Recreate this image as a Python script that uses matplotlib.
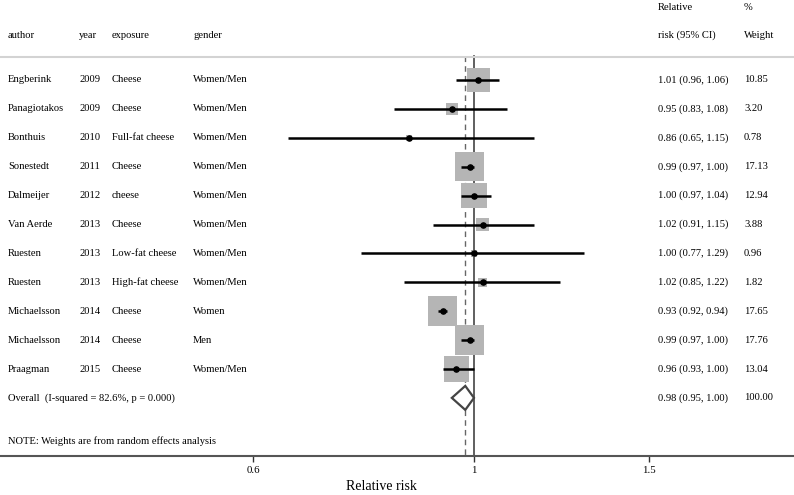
import numpy as np
import matplotlib
matplotlib.use("Agg")
import matplotlib.pyplot as plt
from matplotlib.patches import Polygon

plt.rcParams['font.family'] = ['Liberation Serif', 'DejaVu Serif']

# study data
authors = ['Engberink', 'Panagiotakos', 'Bonthuis', 'Sonestedt', 'Dalmeijer', 'Van Aerde',
           'Ruesten', 'Ruesten', 'Michaelsson', 'Michaelsson', 'Praagman']
years = ['2009', '2009', '2010', '2011', '2012', '2013', '2013', '2013', '2014', '2014', '2015']
exposures = ['Cheese', 'Cheese', 'Full-fat cheese', 'Cheese', 'cheese', 'Cheese',
             'Low-fat cheese', 'High-fat cheese', 'Cheese', 'Cheese', 'Cheese']
genders = ['Women/Men', 'Women/Men', 'Women/Men', 'Women/Men', 'Women/Men', 'Women/Men',
           'Women/Men', 'Women/Men', 'Women', 'Men', 'Women/Men']
rr = [1.01, 0.95, 0.86, 0.99, 1.00, 1.02, 1.00, 1.02, 0.93, 0.99, 0.96]
lo = [0.96, 0.83, 0.65, 0.97, 0.97, 0.91, 0.77, 0.85, 0.92, 0.97, 0.93]
hi = [1.06, 1.08, 1.15, 1.00, 1.04, 1.15, 1.29, 1.22, 0.94, 1.00, 1.00]
weights = [10.85, 3.20, 0.78, 17.13, 12.94, 3.88, 0.96, 1.82, 17.65, 17.76, 13.04]

overall_rr, overall_lo, overall_hi, overall_w = 0.98, 0.95, 1.00, 100.00
overall_label = 'Overall  (I-squared = 82.6%, p = 0.000)'
note = 'NOTE: Weights are from random effects analysis'
xticks = [0.6, 1, 1.5]
xticklabels = ['0.6', '1', '1.5']

W, H = 794, 495
fig = plt.figure(figsize=(W / 100, H / 100), dpi=100)
ax = fig.add_axes([0, 39 / H, 1, 456 / H])
ax.set_xscale('log')
ax.set_xlim(np.exp(-474 / 432), np.exp(320 / 432))
ax.set_ylim(456, 0)

for s in ['left', 'right', 'top']:
    ax.spines[s].set_visible(False)
ax.spines['bottom'].set_color('#555555')
ax.spines['bottom'].set_linewidth(1.5)
ax.set_yticks([])
ax.set_xticks(xticks)
ax.set_xticklabels(xticklabels)
ax.minorticks_off()
ax.tick_params(axis='x', length=4, width=1, color='#333333', pad=3, labelsize=7.8)

fs = 7.6
row0, step = 80, 28.9
ys = [row0 + step * i for i in range(len(authors))]
y_all = row0 + step * len(authors)

# header
T = ax.get_yaxis_transform()
ax.axhline(57, color='#d3d3d3', lw=1.5)
for x, t in [(8, 'author'), (79, 'year'), (112, 'exposure'), (193, 'gender'),
             (658, 'risk (95% CI)'), (744, 'Weight')]:
    ax.text(x / W, 35, t, transform=T, fontsize=fs, va='center')
ax.text(658 / W, 7, 'Relative', transform=T, fontsize=fs, va='center')
ax.text(744 / W, 7, '%', transform=T, fontsize=fs, va='center')

# reference lines
ax.plot([1, 1], [56, 456], color='#444444', lw=1.2, zorder=1)
ax.plot([overall_rr, overall_rr], [56, y_all - 12], color='#666666', lw=1, ls=(0, (4, 3)), zorder=1)
ax.plot([overall_rr, overall_rr], [y_all + 12, 456], color='#666666', lw=1, ls=(0, (4, 3)), zorder=1)

# studies
for i, y in enumerate(ys):
    ax.text(8 / W, y, authors[i], transform=T, fontsize=fs, va='center')
    ax.text(79 / W, y, years[i], transform=T, fontsize=fs, va='center')
    ax.text(112 / W, y, exposures[i], transform=T, fontsize=fs, va='center')
    ax.text(193 / W, y, genders[i], transform=T, fontsize=fs, va='center')
    ax.text(658 / W, y, '%.2f (%.2f, %.2f)' % (rr[i], lo[i], hi[i]), transform=T,
            fontsize=fs, va='center')
    ax.text(744 / W, y, '%.2f' % weights[i], transform=T, fontsize=fs, va='center')

side = 7.0 * np.sqrt(weights) * 0.72
ax.scatter(rr, ys, s=side ** 2, marker='s', color='#b5b5b5', linewidths=0, zorder=2)
ax.hlines(ys, lo, hi, color='black', lw=1.8, zorder=3)
ax.scatter(rr, ys, s=14, color='black', zorder=4)

# overall
diamond = Polygon([[overall_lo, y_all], [overall_rr, y_all - 12],
                   [overall_hi, y_all], [overall_rr, y_all + 12]],
                  closed=True, facecolor='white', edgecolor='#444444', lw=1.6, zorder=3)
ax.add_patch(diamond)
ax.text(8 / W, y_all, overall_label, transform=T, fontsize=fs, va='center')
ax.text(658 / W, y_all, '%.2f (%.2f, %.2f)' % (overall_rr, overall_lo, overall_hi),
        transform=T, fontsize=fs, va='center')
ax.text(744 / W, y_all, '%.2f' % overall_w, transform=T, fontsize=fs, va='center')
ax.text(8 / W, 441, note, transform=T, fontsize=fs, va='center')

fig.text(381 / W, 1 - 487 / H, 'Relative risk', fontsize=10, ha='center', va='center')

fig.savefig('out.png', dpi=100)
